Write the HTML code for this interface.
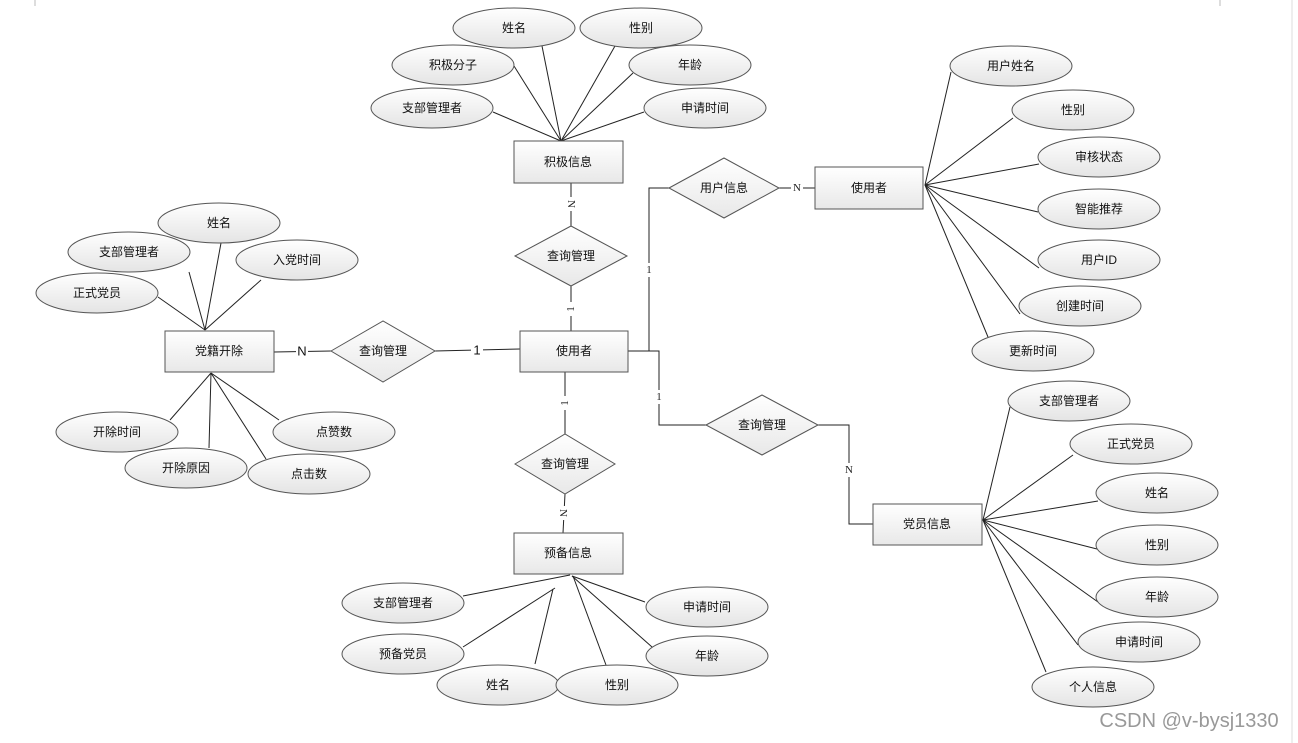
<!DOCTYPE html>
<html><head><meta charset="utf-8"><style>
html,body{margin:0;padding:0;background:#fff;}
svg{display:block;}
text{font-family:"Liberation Sans","Noto Sans CJK SC",sans-serif;font-size:12px;fill:#111;text-anchor:middle;dominant-baseline:central;}
.l{stroke:#222;stroke-width:1;fill:none;}
.e{fill:url(#g);stroke:#555;stroke-width:1;}
.r{fill:url(#g2);stroke:#555;stroke-width:1;}
.lab{font-size:11px;fill:#222;font-family:"Liberation Serif",serif;}
</style></head><body>
<svg width="1298" height="743" viewBox="0 0 1298 743" xmlns="http://www.w3.org/2000/svg">
<defs>
<linearGradient id="g" x1="0" y1="0" x2="0" y2="1"><stop offset="0" stop-color="#ffffff"/><stop offset="1" stop-color="#e4e4e4"/></linearGradient>
<linearGradient id="g2" x1="0" y1="0" x2="0" y2="1"><stop offset="0" stop-color="#ffffff"/><stop offset="1" stop-color="#e8e8e8"/></linearGradient>
</defs>
<line x1="35" y1="0" x2="35" y2="6" stroke="#bbb"/>
<line x1="1220" y1="0" x2="1220" y2="6" stroke="#bbb"/>
<line x1="1292" y1="0" x2="1292" y2="743" stroke="#ddd"/>

<!-- top group lines -->
<g class="l">
<line x1="493" y1="112" x2="561" y2="141"/>
<line x1="514" y1="66" x2="561" y2="141"/>
<line x1="542" y1="46" x2="561" y2="141"/>
<line x1="615" y1="46" x2="561" y2="141"/>
<line x1="633" y1="73" x2="561" y2="141"/>
<line x1="644" y1="112" x2="561" y2="141"/>
<line x1="571" y1="183" x2="571" y2="226"/>
<line x1="571" y1="286" x2="571" y2="331"/>
<!-- left -->
<line x1="189" y1="272" x2="205" y2="330"/>
<line x1="158" y1="297" x2="205" y2="330"/>
<line x1="221" y1="243" x2="205" y2="330"/>
<line x1="261" y1="280" x2="205" y2="330"/>
<line x1="170" y1="420" x2="211" y2="373"/>
<line x1="209" y1="448" x2="211" y2="373"/>
<line x1="266" y1="459" x2="211" y2="373"/>
<line x1="279" y1="420" x2="211" y2="373"/>
<line x1="274" y1="352" x2="331" y2="351"/>
<line x1="435" y1="351" x2="520" y2="349"/>
<!-- bottom -->
<line x1="565" y1="372" x2="565" y2="434"/>
<line x1="565" y1="494" x2="563" y2="533"/>
<line x1="463" y1="596" x2="570" y2="575"/>
<line x1="463" y1="647" x2="555" y2="588"/>
<line x1="553" y1="589" x2="535" y2="664"/>
<line x1="573" y1="576" x2="606" y2="665"/>
<line x1="572" y1="576" x2="652" y2="647"/>
<line x1="572" y1="576" x2="645" y2="602"/>
<!-- right top -->
<polyline points="628,351 649,351 649,188 669,188"/>
<line x1="779" y1="188" x2="815" y2="188"/>
<line x1="925" y1="185" x2="951" y2="72"/>
<line x1="925" y1="185" x2="1013" y2="118"/>
<line x1="925" y1="185" x2="1039" y2="164"/>
<line x1="925" y1="185" x2="1038" y2="212"/>
<line x1="925" y1="185" x2="1039" y2="268"/>
<line x1="925" y1="185" x2="1020" y2="314"/>
<line x1="925" y1="185" x2="988" y2="337"/>
<!-- right bottom -->
<polyline points="628,351 659,351 659,425 706,425"/>
<polyline points="818,425 849,425 849,524 873,524"/>
<line x1="983" y1="520" x2="1010" y2="407"/>
<line x1="983" y1="520" x2="1073" y2="455"/>
<line x1="983" y1="520" x2="1098" y2="501"/>
<line x1="983" y1="520" x2="1097" y2="549"/>
<line x1="983" y1="520" x2="1098" y2="602"/>
<line x1="983" y1="520" x2="1078" y2="645"/>
<line x1="983" y1="520" x2="1046" y2="672"/>
</g>

<!-- label bg -->
<g fill="#fff">
<rect x="565" y="197" width="12" height="14"/><rect x="565" y="302" width="12" height="14"/>
<rect x="296" y="344" width="12" height="14"/><rect x="471" y="343" width="12" height="14"/>
<rect x="559" y="396" width="12" height="14"/><rect x="557" y="506" width="12" height="14"/>
<rect x="643" y="263" width="12" height="14"/><rect x="791" y="181" width="12" height="14"/>
<rect x="653" y="390" width="12" height="14"/><rect x="843" y="463" width="12" height="14"/>
</g>
<text class="lab" x="571" y="204" transform="rotate(90 571 204)">N</text>
<text class="lab" x="571" y="309" transform="rotate(-90 571 309)">1</text>
<text x="302" y="351" style="font-size:13px">N</text>
<text x="477" y="350" style="font-size:13px">1</text>
<text class="lab" x="565" y="403" transform="rotate(-90 565 403)">1</text>
<text class="lab" x="563" y="513" transform="rotate(90 563 513)">N</text>
<text class="lab" x="649" y="270">1</text>
<text class="lab" x="797" y="188">N</text>
<text class="lab" x="659" y="397">1</text>
<text class="lab" x="849" y="470">N</text>

<!-- diamonds -->
<g class="r">
<polygon points="515,256 571,226 627,256 571,286"/>
<polygon points="331,351 383,321 435,351 383,382"/>
<polygon points="515,464 565,434 615,464 565,494"/>
<polygon points="669,188 724,158 779,188 724,218"/>
<polygon points="706,425 762,395 818,425 762,455"/>
</g>
<text x="571" y="256">查询管理</text>
<text x="383" y="351">查询管理</text>
<text x="565" y="464">查询管理</text>
<text x="724" y="188">用户信息</text>
<text x="762" y="425">查询管理</text>

<!-- rects -->
<g class="r">
<rect x="514" y="141" width="109" height="42"/>
<rect x="520" y="331" width="108" height="41"/>
<rect x="165" y="331" width="109" height="41"/>
<rect x="514" y="533" width="109" height="41"/>
<rect x="815" y="167" width="108" height="42"/>
<rect x="873" y="504" width="109" height="41"/>
</g>
<text x="568" y="162">积极信息</text>
<text x="574" y="351">使用者</text>
<text x="219" y="351">党籍开除</text>
<text x="568" y="553">预备信息</text>
<text x="869" y="188">使用者</text>
<text x="927" y="524">党员信息</text>

<!-- ellipses -->
<g class="e">
<ellipse cx="514" cy="28" rx="61" ry="20"/><ellipse cx="641" cy="28" rx="61" ry="20"/>
<ellipse cx="453" cy="65" rx="61" ry="20"/><ellipse cx="690" cy="65" rx="61" ry="20"/>
<ellipse cx="432" cy="108" rx="61" ry="20"/><ellipse cx="705" cy="108" rx="61" ry="20"/>
<ellipse cx="219" cy="223" rx="61" ry="20"/><ellipse cx="129" cy="252" rx="61" ry="20"/>
<ellipse cx="297" cy="260" rx="61" ry="20"/><ellipse cx="97" cy="293" rx="61" ry="20"/>
<ellipse cx="117" cy="432" rx="61" ry="20"/><ellipse cx="334" cy="432" rx="61" ry="20"/>
<ellipse cx="186" cy="468" rx="61" ry="20"/><ellipse cx="309" cy="474" rx="61" ry="20"/>
<ellipse cx="403" cy="603" rx="61" ry="20"/><ellipse cx="707" cy="607" rx="61" ry="20"/>
<ellipse cx="403" cy="654" rx="61" ry="20"/><ellipse cx="707" cy="656" rx="61" ry="20"/>
<ellipse cx="498" cy="685" rx="61" ry="20"/><ellipse cx="617" cy="685" rx="61" ry="20"/>
<ellipse cx="1011" cy="66" rx="61" ry="20"/><ellipse cx="1073" cy="110" rx="61" ry="20"/>
<ellipse cx="1099" cy="157" rx="61" ry="20"/><ellipse cx="1099" cy="209" rx="61" ry="20"/>
<ellipse cx="1099" cy="260" rx="61" ry="20"/><ellipse cx="1080" cy="306" rx="61" ry="20"/>
<ellipse cx="1033" cy="351" rx="61" ry="20"/>
<ellipse cx="1069" cy="401" rx="61" ry="20"/><ellipse cx="1131" cy="444" rx="61" ry="20"/>
<ellipse cx="1157" cy="493" rx="61" ry="20"/><ellipse cx="1157" cy="545" rx="61" ry="20"/>
<ellipse cx="1157" cy="597" rx="61" ry="20"/><ellipse cx="1139" cy="642" rx="61" ry="20"/>
<ellipse cx="1093" cy="687" rx="61" ry="20"/>
</g>
<text x="514" y="28">姓名</text><text x="641" y="28">性别</text>
<text x="453" y="65">积极分子</text><text x="690" y="65">年龄</text>
<text x="432" y="108">支部管理者</text><text x="705" y="108">申请时间</text>
<text x="219" y="223">姓名</text><text x="129" y="252">支部管理者</text>
<text x="297" y="260">入党时间</text><text x="97" y="293">正式党员</text>
<text x="117" y="432">开除时间</text><text x="334" y="432">点赞数</text>
<text x="186" y="468">开除原因</text><text x="309" y="474">点击数</text>
<text x="403" y="603">支部管理者</text><text x="707" y="607">申请时间</text>
<text x="403" y="654">预备党员</text><text x="707" y="656">年龄</text>
<text x="498" y="685">姓名</text><text x="617" y="685">性别</text>
<text x="1011" y="66">用户姓名</text><text x="1073" y="110">性别</text>
<text x="1099" y="157">审核状态</text><text x="1099" y="209">智能推荐</text>
<text x="1099" y="260">用户ID</text><text x="1080" y="306">创建时间</text>
<text x="1033" y="351">更新时间</text>
<text x="1069" y="401">支部管理者</text><text x="1131" y="444">正式党员</text>
<text x="1157" y="493">姓名</text><text x="1157" y="545">性别</text>
<text x="1157" y="597">年龄</text><text x="1139" y="642">申请时间</text>
<text x="1093" y="687">个人信息</text>

<text x="1189" y="721" style="font-size:20px;fill:#999;">CSDN @v-bysj1330</text>
</svg>
</body></html>
